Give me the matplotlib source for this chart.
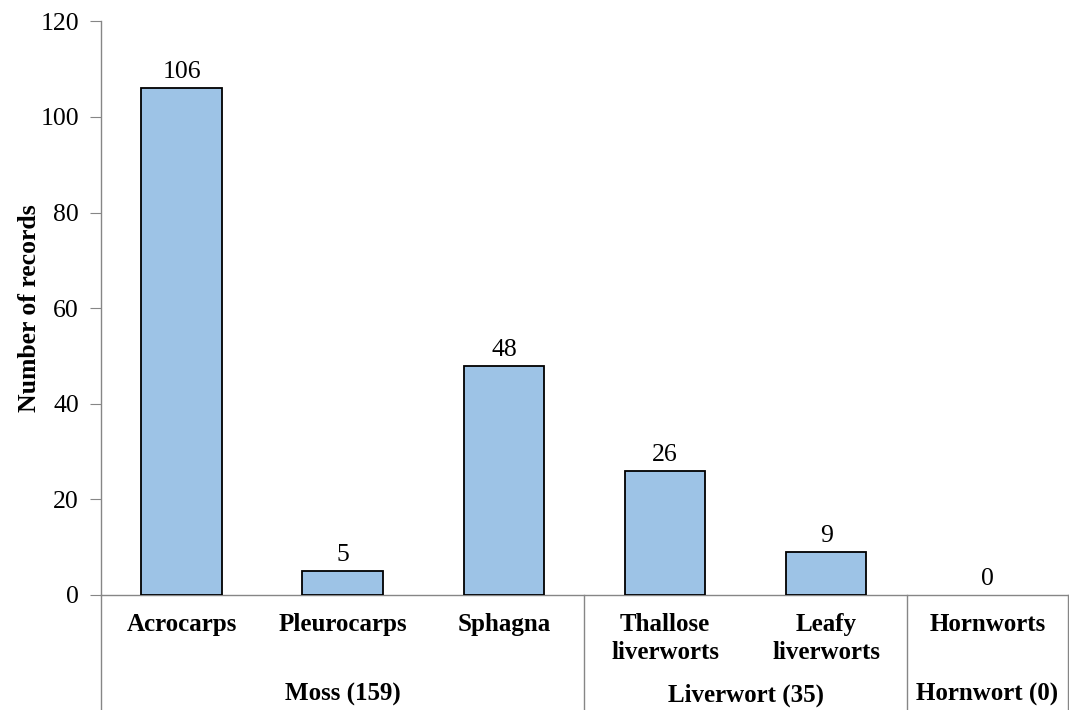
import matplotlib.pyplot as plt
import matplotlib.transforms as mtransforms

# data
categories = ["Acrocarps", "Pleurocarps", "Sphagna", "Thallose\nliverworts", "Leafy\nliverworts", "Hornworts"]
records = [106, 5, 48, 26, 9, 0]
groups = ["Moss (159)", "Liverwort (35)", "Hornwort (0)"]
group_sizes = [3, 2, 1]

plt.rcParams['font.family'] = ['Liberation Serif', 'DejaVu Serif']

fig = plt.figure(figsize=(10.69, 7.10), dpi=100)
ax = fig.add_axes([0.0945, 0.162, 0.9045, 0.808])

x = list(range(len(categories)))
# Excel draws no outline for an empty bar
widths = [1.3 if v > 0 else 0 for v in records]
ax.bar(x, records, width=0.5, color='#9DC3E6', edgecolor='black', linewidth=widths, zorder=3)
for xi, v in zip(x, records):
    ax.text(xi, v + 1.0, str(v), ha='center', va='bottom', fontsize=18.5)

ax.set_xlim(-0.5, len(categories) - 0.5)
ax.set_ylim(0, 120)
ax.set_yticks(range(0, 121, 20))
ax.tick_params(axis='y', labelsize=18.5, direction='out', length=8, color='#868686', pad=8)
ax.set_xticks([])
for s in ['top', 'right']:
    ax.spines[s].set_visible(False)
for s in ['left', 'bottom']:
    ax.spines[s].set_color('#868686')
    ax.spines[s].set_linewidth(1.0)

ax.set_ylabel("Number of records", fontsize=18.5, fontweight='bold')
ax.yaxis.set_label_coords(-0.062, 0.5)

trans = mtransforms.blended_transform_factory(ax.transData, ax.transAxes)

# category labels
for xi, c in zip(x, categories):
    ax.text(xi, -0.031, c, transform=trans, ha='center', va='top', fontsize=18,
            fontweight='bold', linespacing=1.3)

# group separators and labels
bounds = [-0.5]
for n in group_sizes:
    bounds.append(bounds[-1] + n)
for b in bounds:
    ax.plot([b, b], [0, -0.21], transform=trans, color='#868686', linewidth=1.0, clip_on=False)
for i, g in enumerate(groups):
    mid = (bounds[i] + bounds[i + 1]) / 2
    ax.text(mid, -0.174, g, transform=trans, ha='center', va='center', fontsize=18, fontweight='bold')

fig.savefig("out.png", dpi=100)
